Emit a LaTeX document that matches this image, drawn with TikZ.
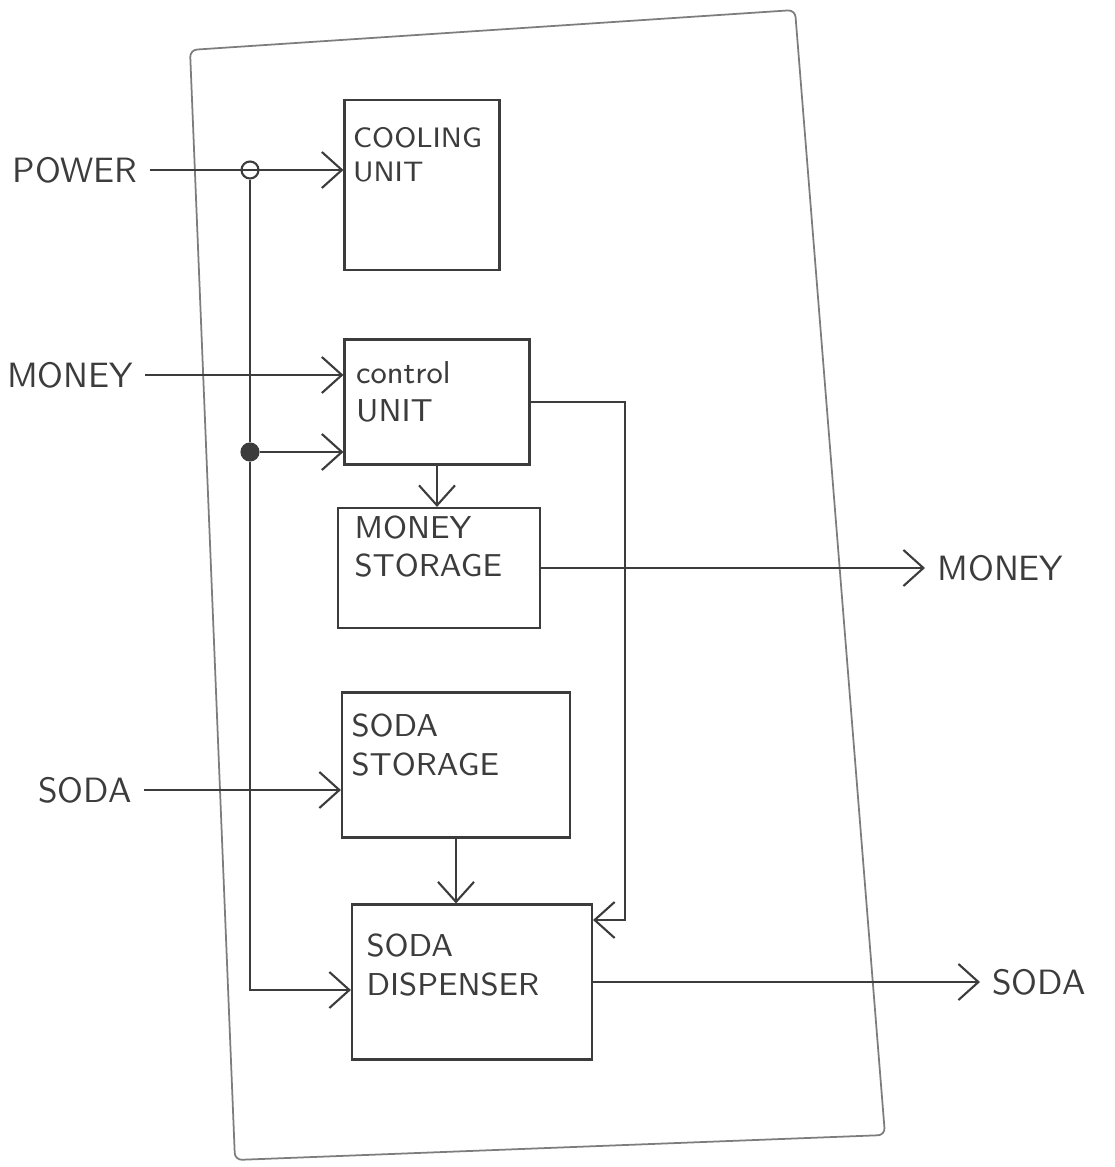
\documentclass[tikz,border=0pt]{standalone}
\usepackage{xcolor}
\usepackage{tikz}
\usetikzlibrary{arrows.meta, positioning, calc}
\definecolor{pencil}{RGB}{60,60,60}
\definecolor{faint}{RGB}{125,125,125}
\tikzset{
  unitbox/.style={rectangle, draw=pencil, line width=0.6pt, fill=white},
  boxtext/.style={anchor=north west, align=left, font=\small\sffamily,
    text=pencil, inner sep=0pt},
  extlabel/.style={font=\sffamily, text=pencil},
  arrow/.style={-{Straight Barb[length=2mm, width=3.6mm]}, line width=0.6pt, color=pencil},
  line/.style={line width=0.6pt, color=pencil},
  tap/.style={circle, draw=pencil, line width=0.6pt, inner sep=0pt, minimum size=1.7mm}
}

\begin{document}
\begin{tikzpicture}
  \useasboundingbox (0,0) rectangle (11.14,-11.67);

  % System boundary
  \coordinate (bTL) at (1.90,-0.50);
  \coordinate (bTR) at (7.95,-0.10);
  \coordinate (bBR) at (8.85,-11.35);
  \coordinate (bBL) at (2.35,-11.60);
  \draw[faint, line width=0.5pt, rounded corners=2pt] (bTL) -- (bTR) -- (bBR) -- (bBL) -- cycle;

  % Units inside the machine
  \node[unitbox, minimum width=1.55cm, minimum height=1.70cm,
    label={[boxtext, font=\footnotesize\sffamily, xshift=0.09cm, yshift=-0.28cm]north west:COOLING\\UNIT}] (cooling) at (4.22,-1.85) {};
  \node[unitbox, minimum width=1.85cm, minimum height=1.25cm,
    label={[boxtext, xshift=0.12cm, yshift=-0.22cm]north west:control\\UNIT}] (control) at (4.37,-4.02) {};
  \node[unitbox, minimum width=2.02cm, minimum height=1.20cm,
    label={[boxtext, xshift=0.17cm, yshift=-0.08cm]north west:MONEY\\STORAGE}] (moneystore) at (4.39,-5.68) {};
  \node[unitbox, minimum width=2.28cm, minimum height=1.45cm,
    label={[boxtext, xshift=0.10cm, yshift=-0.22cm]north west:SODA\\STORAGE}] (sodastore) at (4.56,-7.65) {};
  \node[unitbox, minimum width=2.40cm, minimum height=1.55cm,
    label={[boxtext, xshift=0.15cm, yshift=-0.30cm]north west:SODA\\DISPENSER}] (dispenser) at (4.72,-9.82) {};

  % Outside labels
  \node[extlabel] (power) at (0.75,-1.70) {POWER};
  \node[extlabel] (moneyin) at (0.70,-3.75) {MONEY};
  \node[extlabel] (sodain) at (0.85,-7.90) {SODA};
  \node[extlabel, anchor=west] (moneyout) at (9.25,-5.68) {MONEY};
  \node[extlabel, anchor=west] (sodaout) at (9.80,-9.82) {SODA};

  % Power bus
  \node[tap] (pwrtap) at (2.50,-1.70) {};
  \node[tap, fill=pencil] (ctltap) at (2.50,-4.52) {};
  \coordinate (busend) at (2.50,-9.90);
  \draw[arrow] (power) -- (power -| cooling.west);
  \draw[line] (pwrtap) -- (ctltap);
  \draw[arrow] (ctltap) -- (ctltap -| control.west);
  \draw[arrow] (ctltap) -- (busend) -- (busend -| dispenser.west);

  % Inputs
  \draw[arrow] (moneyin) -- (moneyin -| control.west);
  \draw[arrow] (sodain) -- (sodain -| sodastore.west);

  % Flow between units
  \draw[arrow] (control.south) -- (control.south |- moneystore.north);
  \draw[arrow] (sodastore.south) -- (sodastore.south |- dispenser.north);
  \coordinate (loopT) at (6.25,-4.02);
  \coordinate (loopB) at (6.25,-9.20);
  \draw[arrow] (control.east) -- (loopT) -- (loopB) -- (loopB -| dispenser.east);

  % Outputs
  \draw[arrow] (moneystore.east) -- (moneyout.west);
  \draw[arrow] (dispenser.east) -- (sodaout.west);
\end{tikzpicture}
\end{document}
